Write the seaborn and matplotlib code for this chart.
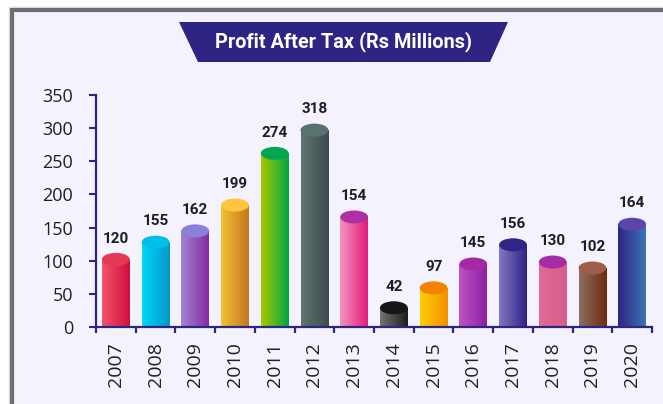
import matplotlib.pyplot as plt
import numpy as np
import seaborn as sns
from matplotlib.colors import LinearSegmentedColormap
from matplotlib.patches import Ellipse, Polygon, Rectangle

years = ["2007", "2008", "2009", "2010", "2011", "2012", "2013",
         "2014", "2015", "2016", "2017", "2018", "2019", "2020"]
# printed values above each cylinder
profit_labels = [120, 155, 162, 199, 274, 318, 154, 42, 97, 145, 156, 130, 102, 164]
# cylinder heights as drawn against the y axis of the reference
bar_heights = [102, 128, 145, 184, 262, 297, 166, 29, 59, 95, 124, 98, 89, 155]
y_ticks = [0, 50, 100, 150, 200, 250, 300, 350]

# (left shade, right shade, top face) for each cylinder
bar_colors = [
    ("#F25468", "#CF0F3C", "#E23A55"),
    ("#00D7FA", "#0398C8", "#00BDE9"),
    ("#A384D2", "#842BA0", "#8C7FD9"),
    ("#F2C235", "#C5761E", "#FFC53D"),
    ("#A8C800", "#00A642", "#00A651"),
    ("#5D7573", "#3E4B4B", "#587270"),
    ("#F293C0", "#E31C7B", "#B02FA3"),
    ("#737373", "#1E1E1E", "#161616"),
    ("#FFCB05", "#F39200", "#F18300"),
    ("#BC55C2", "#8E1FA2", "#A32AA4"),
    ("#8476C2", "#2F2386", "#2E2585"),
    ("#E06A98", "#D85E8E", "#A72BA8"),
    ("#8B6F64", "#702A0E", "#A05B49"),
    ("#2E2585", "#3B74B3", "#5B45A9"),
]

NAVY = "#2E2483"
CARD = "#F4F2FD"
W, H = 663, 404

sns.set_style("white")
plt.rcParams["font.family"] = ["Open Sans", "DejaVu Sans"]

fig = plt.figure(figsize=(W / 100, H / 100), dpi=100)
fig.patch.set_facecolor("white")


def fx(px):
    return px / W


def fy(py):
    return 1 - py / H


# card with soft shadow, kept behind the axes
for i, a in enumerate([0.08, 0.15, 0.25]):
    off = 4 - i * 1.3
    fig.patches.append(Rectangle((fx(12 - off), fy(H + 20)), 1.2, (H + 10 + off) / H,
                                 transform=fig.transFigure, facecolor="#808080",
                                 alpha=a, edgecolor="none", zorder=-3))
fig.patches.append(Rectangle((fx(12), fy(H + 20)), 1.2, (H + 10) / H,
                             transform=fig.transFigure, facecolor=CARD,
                             edgecolor="#6E6E6E", linewidth=3, zorder=-2))

# title banner
banner = Polygon([(fx(179), fy(22)), (fx(508), fy(22)), (fx(490), fy(62)), (fx(198), fy(62))],
                 closed=True, transform=fig.transFigure, facecolor=NAVY,
                 edgecolor="none", zorder=2)
fig.patches.append(banner)
fig.text(fx(343), fy(42), "Profit After Tax (Rs Millions)", ha="center", va="center",
         color="white", fontsize=14.3, fontweight="bold",
         family=["Roboto", "DejaVu Sans"], zorder=3)

ax = fig.add_axes([fx(96), fy(327), fx(652) - fx(96), (327 - 95) / H])
ax.set_facecolor("none")

sns.barplot(x=years, y=bar_heights, hue=years, palette=[c[1] for c in bar_colors],
            legend=False, width=0.7, ax=ax)

ax.set_xlim(-0.5, 13.5)
ax.set_ylim(0, 350)
px_per_unit = (327 - 95) / 350
ell_h = 13 / px_per_unit

for patch, (c_left, c_right, c_top), h, lab in zip(ax.patches, bar_colors, bar_heights, profit_labels):
    x0, w = patch.get_x(), patch.get_width()
    xc = x0 + w / 2
    patch.set_visible(False)
    cmap = LinearSegmentedColormap.from_list("g", [c_left, c_right])
    grad = np.linspace(0, 1, 64)[None, :]
    body = Rectangle((x0, 0), w, h, transform=ax.transData)
    bottom = Ellipse((xc, 0), w, ell_h, transform=ax.transData)
    for clip in (body, bottom):
        im = ax.imshow(grad, cmap=cmap, extent=(x0, x0 + w, -ell_h / 2, h),
                       aspect="auto", interpolation="bilinear", zorder=2)
        im.set_clip_path(clip)
    ax.add_patch(Ellipse((xc, h), w, ell_h, facecolor=c_top, edgecolor="none",
                         zorder=3, clip_on=False))
    ax.text(xc, h + ell_h / 2 + 11, str(lab), ha="center", va="bottom",
            fontsize=11, fontweight="bold", color="#1E1E1E",
            family=["Roboto", "DejaVu Sans"], zorder=4)

ax.set_xlim(-0.5, 13.5)
ax.set_ylim(0, 350)

sns.despine(ax=ax)
for side in ("left", "bottom"):
    ax.spines[side].set_color(NAVY)
    ax.spines[side].set_linewidth(1.6)
    ax.spines[side].set_zorder(5)

ax.set_yticks(y_ticks)
ax.set_yticklabels([str(t) for t in y_ticks])
ax.tick_params(axis="y", direction="out", length=5, width=1.5, color=NAVY,
               pad=11.5, labelsize=13, labelcolor="#231F20", left=True)

ax.set_xticks(range(len(years)))
ax.set_xticklabels(years, rotation=90)
ax.set_xticks(np.arange(-0.5, 14, 1), minor=True)
ax.tick_params(axis="x", which="major", length=0, pad=11, labelsize=14, labelcolor="#231F20")
ax.tick_params(axis="x", which="minor", direction="out", length=4.5, width=1.6,
               color=NAVY, bottom=True)
ax.set_xlabel("")
ax.set_ylabel("")

fig.savefig("out.png", dpi=100)
